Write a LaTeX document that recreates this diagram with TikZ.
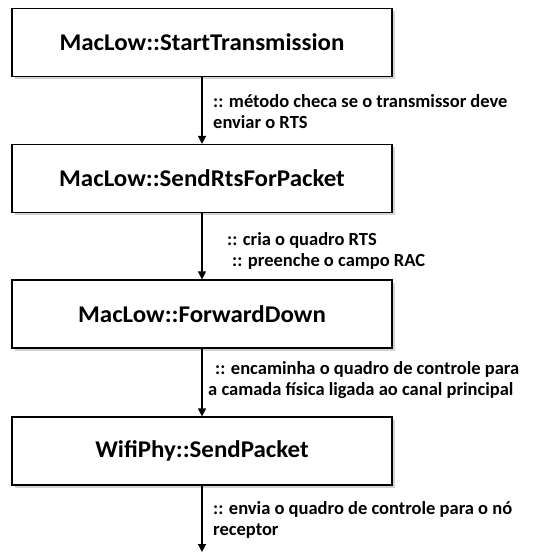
\documentclass[tikz,border=0pt]{standalone}
\usepackage{fontspec}
\setmainfont{Carlito}
\newfontfamily\boxfont[FakeStretch=1.04]{Carlito}
\usetikzlibrary{arrows.meta,shadows}
\begin{document}
\begin{tikzpicture}[x=1pt,y=1pt,
  fnbox/.style={draw=black, line width=1.2pt, fill=white, minimum width=380pt, minimum height=68pt,
    font=\boxfont\fontsize{24}{28}\selectfont\bfseries,
    drop shadow={shadow xshift=2.5pt, shadow yshift=-2.5pt, opacity=0.35, fill=gray}},
  lbl/.style={font=\fontsize{18.5}{21}\selectfont\bfseries, inner sep=0pt, anchor=base west},
  flow/.style={line width=1.2pt, -{Triangle[length=8pt,width=8pt]}}]
\useasboundingbox (0,0) rectangle (544,-552);
\node[fnbox] (b1) at (202,-42.5) {MacLow::StartTransmission};
\node[fnbox] (b2) at (202,-178.5) {MacLow::SendRtsForPacket};
\node[fnbox] (b3) at (202,-314) {MacLow::ForwardDown};
\node[fnbox] (b4) at (202,-451) {WifiPhy::SendPacket};
\coordinate (e) at (b4.south |- 0,-552);
\draw[flow] (b1) -- (b2);
\draw[flow] (b2) -- (b3);
\draw[flow] (b3) -- (b4);
\draw[flow] (b4) -- (e);
\node[lbl] (l1a) at (213,-107) {:: método checa se o transmissor deve};
\node[lbl] (l1b) at (213,-128) {enviar o RTS};
\node[lbl] (l2a) at (227,-245) {:: cria o quadro RTS};
\node[lbl] (l2b) at (232,-266) {:: preenche o campo RAC};
\node[lbl] (l3a) at (215,-374) {:: encaminha o quadro de controle para};
\node[lbl] (l3b) at (208,-395) {a camada física ligada ao canal principal};
\node[lbl] (l4a) at (213,-514) {:: envia o quadro de controle para o nó};
\node[lbl] (l4b) at (213,-535) {receptor};
\end{tikzpicture}
\end{document}
